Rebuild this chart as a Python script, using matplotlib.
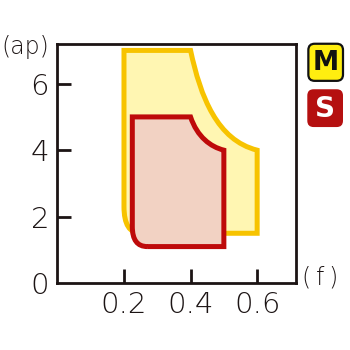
import matplotlib
matplotlib.use("Agg")
import matplotlib.pyplot as plt
from matplotlib.path import Path
from matplotlib.patches import PathPatch, FancyBboxPatch

# Data: boundary vertices of the two cutting regions (f, ap)
m_verts = [(0.25, 1.5), (0.6, 1.5), (0.6, 4.0),
           (0.48, 4.3), (0.43, 5.6), (0.4, 7.0),
           (0.2, 7.0), (0.2, 2.3), (0.2, 1.5), (0.25, 1.5)]
m_codes = ["M", "L", "L", "C", "C", "C", "L", "L", "Q", "Q"]

s_verts = [(0.27, 1.1), (0.5, 1.1), (0.5, 4.0),
           (0.46, 4.1), (0.42, 4.4), (0.4, 5.0),
           (0.225, 5.0), (0.225, 1.7), (0.225, 1.1), (0.27, 1.1)]
s_codes = ["M", "L", "L", "C", "C", "C", "L", "L", "Q", "Q"]

x_ticks = [0.2, 0.4, 0.6]
x_ticklabels = ["0.2", "0.4", "0.6"]
y_ticks = [0, 2, 4, 6]
y_ticklabels = ["0", "2", "4", "6"]
legend_labels = ["M", "S"]

code_map = {"M": Path.MOVETO, "L": Path.LINETO, "C": Path.CURVE4, "Q": Path.CURVE3}

TXT = "#1c1414"

fig = plt.figure(figsize=(3.5, 3.5), dpi=100)
ax = fig.add_axes([0.164, 0.191, 0.682, 0.683])
ax.set_xlim(0, 0.717)
ax.set_ylim(0, 7.19)

ax.add_patch(PathPatch(Path(m_verts, [code_map[c] for c in m_codes]),
                       facecolor="#FFF6B2", edgecolor="#F7C300", lw=3.6,
                       joinstyle="miter"))
ax.add_patch(PathPatch(Path(s_verts, [code_map[c] for c in s_codes]),
                       facecolor="#F2D2C3", edgecolor="#BE0A0A", lw=3.6,
                       joinstyle="miter"))

for s in ax.spines.values():
    s.set_linewidth(2.0)
    s.set_color(TXT)

font = dict(family="DejaVu Sans", weight="light")
ax.set_xticks(x_ticks)
ax.set_xticklabels(x_ticklabels, fontsize=21, **font)
ax.set_yticks(y_ticks)
ax.set_yticklabels(y_ticklabels, fontsize=21, **font)
ax.tick_params(axis="both", direction="in", length=10, width=2.0,
               color=TXT, labelcolor=TXT)
ax.tick_params(axis="x", pad=6)
ax.tick_params(axis="y", pad=6)
ax.yaxis.get_major_ticks()[0].tick1line.set_visible(False)

fig.text(0.072, 0.866, "(ap)", fontsize=17, ha="center", va="center",
         color=TXT, **font)
fig.text(0.915, 0.208, "(\u2009f\u2009)", fontsize=17, ha="center", va="center",
         color=TXT, **font)

# legend boxes
fig.patches.append(FancyBboxPatch((0.881, 0.769), 0.099, 0.106,
                                  boxstyle="round,pad=0,rounding_size=0.018",
                                  transform=fig.transFigure, facecolor="#FFEE10",
                                  edgecolor="#111111", lw=1.6, figure=fig))
fig.text(0.931, 0.820, legend_labels[0], fontsize=19, weight="bold",
         ha="center", va="center", color="#111111", family="DejaVu Sans")
fig.patches.append(FancyBboxPatch((0.878, 0.637), 0.102, 0.108,
                                  boxstyle="round,pad=0,rounding_size=0.018",
                                  transform=fig.transFigure, facecolor="#B51010",
                                  edgecolor="none", figure=fig))
fig.text(0.929, 0.690, legend_labels[1], fontsize=20, weight="bold",
         ha="center", va="center", color="white", family="DejaVu Sans")

fig.savefig("out.png", dpi=100)
